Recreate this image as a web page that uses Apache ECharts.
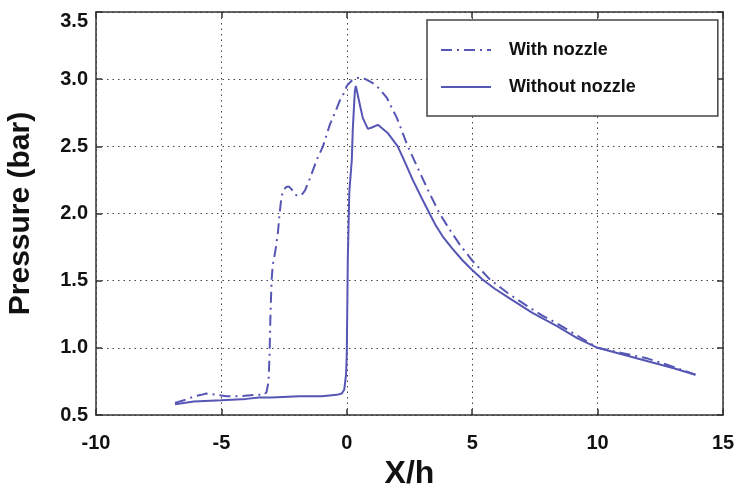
<!DOCTYPE html>
<html>
<head>
<meta charset="utf-8">
<title>Pressure vs X/h</title>
<script src="https://cdn.jsdelivr.net/npm/echarts@6/dist/echarts.min.js"></script>
<style>
  html, body { margin: 0; padding: 0; background: #fff; }
  #chart { width: 736px; height: 489px; }
</style>
</head>
<body>
<div id="chart"></div>
<script>
// 数据
var withNozzleX = [-6.85, -6.5, -6.05, -5.8, -5.6, -5.2, -4.8, -4.3, -3.7, -3.3, -3.2, -3.12, -3.08, -3.05, -3.0, -2.95, -2.85, -2.75, -2.68, -2.6, -2.5, -2.4, -2.3, -2.2, -2.05, -1.95, -1.8, -1.67, -1.45, -1.2, -0.95, -0.68, -0.45, -0.28, -0.1, 0.0, 0.2, 0.45, 0.75, 1.04, 1.3, 1.6, 2.0, 2.43, 2.9, 3.3, 3.7, 4.1, 4.5, 5.0, 5.7, 6.4, 7.2, 7.8, 8.4, 9.2, 10.0, 11.0, 12.0, 13.0, 13.9];
var withNozzleP = [0.59, 0.61, 0.64, 0.65, 0.66, 0.65, 0.64, 0.64, 0.65, 0.65, 0.67, 0.75, 0.95, 1.2, 1.5, 1.62, 1.72, 1.85, 2.0, 2.13, 2.18, 2.2, 2.2, 2.18, 2.14, 2.13, 2.14, 2.17, 2.27, 2.4, 2.5, 2.66, 2.76, 2.84, 2.9, 2.95, 2.99, 3.01, 3.0, 2.97, 2.93, 2.86, 2.71, 2.5, 2.31, 2.15, 2.0, 1.88, 1.77, 1.65, 1.51, 1.41, 1.31, 1.24, 1.18, 1.09, 1.0, 0.96, 0.92, 0.86, 0.80];

var withoutNozzleX = [-6.85, -6.5, -6.1, -5.0, -4.0, -3.5, -3.0, -1.9, -1.0, -0.4, -0.2, -0.1, -0.03, 0.0, 0.04, 0.1, 0.2, 0.24, 0.32, 0.36, 0.44, 0.52, 0.64, 0.84, 1.0, 1.24, 1.63, 2.03, 2.3, 2.63, 3.0, 3.3, 3.55, 3.82, 4.2, 4.62, 5.0, 5.4, 5.9, 6.4, 6.9, 7.4, 7.9, 8.4, 9.2, 10.0, 11.0, 12.0, 13.0, 13.9];
var withoutNozzleP = [0.58, 0.59, 0.60, 0.61, 0.62, 0.63, 0.63, 0.64, 0.64, 0.65, 0.66, 0.69, 0.8, 0.96, 1.66, 2.16, 2.4, 2.63, 2.91, 2.95, 2.88, 2.81, 2.71, 2.63, 2.64, 2.66, 2.6, 2.5, 2.39, 2.25, 2.11, 2.0, 1.91, 1.83, 1.74, 1.65, 1.58, 1.51, 1.44, 1.38, 1.32, 1.26, 1.21, 1.16, 1.07, 1.0, 0.95, 0.9, 0.85, 0.80];

var seriesNames = ["With nozzle", "Without nozzle"];
var lineColor = "#5656b4";
var fontFamily = "Liberation Sans, Arial, sans-serif";

function toPairs(xs, ys) {
  var out = [];
  for (var i = 0; i < xs.length; i++) {
    out.push([xs[i], ys[i]]);
  }
  return out;
}

var chart = echarts.init(document.getElementById("chart"), null, { renderer: "canvas" });

// 坐标轴公共样式（MATLAB风格：边框 + 内刻度）
var boxLine = { show: true, onZero: false, lineStyle: { color: "#333", width: 1.5 } };
var innerTick = { show: true, inside: true, length: 6, lineStyle: { color: "#333", width: 1.5 } };
var dotGrid = { show: true, lineStyle: { color: "#444", width: 1, type: [1.5, 4] } };
var labelFont = { fontFamily: fontFamily, fontWeight: "bold", fontSize: 20, color: "#111" };

var option = {
  backgroundColor: "#fff",
  animation: false,
  grid: {
    left: 96,
    right: 13,
    top: 12,
    bottom: 74,
    containLabel: false,
    outerBoundsMode: "none"
  },
  legend: {
    data: seriesNames,
    orient: "vertical",
    left: 427,
    top: 20,
    padding: [21, 82, 20, 13],
    itemGap: 19,
    itemWidth: 50,
    itemHeight: 14,
    itemStyle: { opacity: 0 }, // 只显示线，不显示圆点
    backgroundColor: "#fff",
    borderColor: "#444",
    borderWidth: 1.5,
    borderRadius: 0,
    textStyle: {
      fontFamily: fontFamily,
      fontWeight: "bold",
      fontSize: 18,
      color: "#111",
      padding: [0, 0, 0, 13]
    }
  },
  xAxis: [
    {
      type: "value",
      position: "bottom",
      min: -10,
      max: 15,
      interval: 5,
      name: "X/h",
      nameLocation: "middle",
      nameGap: 40,
      nameTextStyle: { fontFamily: fontFamily, fontWeight: "bold", fontSize: 32, color: "#111" },
      axisLine: boxLine,
      axisTick: innerTick,
      axisLabel: Object.assign({ margin: 18 }, labelFont),
      splitLine: dotGrid
    },
    {
      type: "value",
      position: "top",
      min: -10,
      max: 15,
      interval: 5,
      axisLine: boxLine,
      axisTick: innerTick,
      axisLabel: { show: false },
      splitLine: { show: false }
    }
  ],
  yAxis: [
    {
      type: "value",
      position: "left",
      min: 0.5,
      max: 3.5,
      interval: 0.5,
      name: "Pressure (bar)",
      nameLocation: "middle",
      nameGap: 60,
      nameTextStyle: { fontFamily: fontFamily, fontWeight: "bold", fontSize: 30, color: "#111" },
      axisLine: boxLine,
      axisTick: innerTick,
      axisLabel: Object.assign({
        margin: 8,
        formatter: function (v) {
          // 顶部标签在原图里略微往下
          return v >= 3.5 ? "{top|" + v.toFixed(1) + "}" : v.toFixed(1);
        },
        rich: {
          top: Object.assign({ padding: [18, 0, 0, 0] }, labelFont)
        }
      }, labelFont),
      splitLine: dotGrid
    },
    {
      type: "value",
      position: "right",
      min: 0.5,
      max: 3.5,
      interval: 0.5,
      axisLine: boxLine,
      axisTick: innerTick,
      axisLabel: { show: false },
      splitLine: { show: false }
    }
  ],
  series: [
    {
      name: seriesNames[0],
      type: "line",
      xAxisIndex: 0,
      yAxisIndex: 0,
      showSymbol: false,
      symbol: "none",
      data: toPairs(withNozzleX, withNozzleP),
      lineStyle: { color: lineColor, width: 2, type: [11, 5, 2, 5] },
      itemStyle: { color: lineColor },
      z: 3
    },
    {
      name: seriesNames[1],
      type: "line",
      xAxisIndex: 0,
      yAxisIndex: 0,
      showSymbol: false,
      symbol: "none",
      data: toPairs(withoutNozzleX, withoutNozzleP),
      lineStyle: { color: lineColor, width: 2, type: "solid" },
      itemStyle: { color: lineColor },
      z: 4
    }
  ]
};

chart.setOption(option);
</script>
</body>
</html>
